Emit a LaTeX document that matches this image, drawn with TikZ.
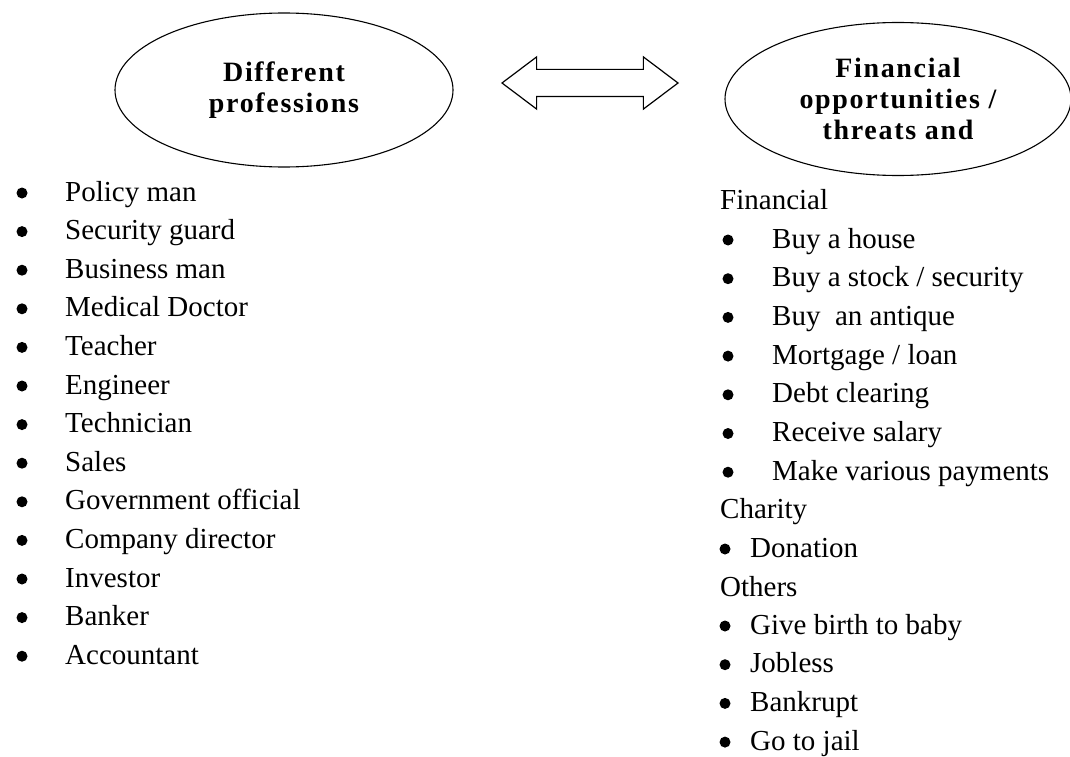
\documentclass[tikz,border=0pt]{standalone}
\usepackage{fontspec}
\setmainfont{Liberation Serif}[BoldFont={Liberation Serif Bold}]
\usetikzlibrary{shapes.geometric,shapes.arrows}
\tikzset{
  bubble/.style={ellipse,draw,line width=1.1pt,align=center,
    font=\bfseries\fontsize{28}{31}\selectfont\addfontfeatures{LetterSpace=6}},
  item/.style={anchor=base west,inner sep=0pt,font=\fontsize{29}{35}\selectfont},
  bul/.style={shape=circle,fill=black,inner sep=0pt,minimum size=11pt}
}
\begin{document}
\begin{tikzpicture}[x=1pt,y=-1pt]
\useasboundingbox (0,0) rectangle (1070,757);
% the two ellipses and the link between them
\node[bubble,minimum width=338pt,minimum height=154pt] (prof) at (284,90) {Different\\professions};
\node[bubble,minimum width=346pt,minimum height=153pt] (fin) at (898,99) {Financial\\opportunities /\\threats and};
\node[double arrow,draw,line width=1.2pt,minimum height=176pt,inner sep=13pt,
  double arrow head extend=12.5pt,double arrow tip angle=74] (link) at (590,83) {};
% left list
\foreach \t [count=\i from 0] in {Policy man,Security guard,Business man,Medical Doctor,Teacher,Engineer,Technician,Sales,Government official,Company director,Investor,Banker,Accountant}{
  \node[bul] (jb\i) at (22,{193+38.6*\i}) {};
  \node[item] (job\i) at (65,{201+38.6*\i}) {\t};
}
% right list
\node[item] (hfin) at (720,209) {Financial};
\foreach \t [count=\i from 0] in {Buy a house,Buy a stock / security,Buy\ \ an antique,Mortgage / loan,Debt clearing,Receive salary,Make various payments}{
  \node[bul] (fb\i) at (728,{240+38.7*\i}) {};
  \node[item] (fi\i) at (772,{248+38.7*\i}) {\t};
}
\node[item] (hchar) at (720,518) {Charity};
\node[bul] (cb) at (725,549) {};
\node[item] (ci) at (750,557) {Donation};
\node[item] (hoth) at (720,596) {Others};
\foreach \t [count=\i from 0] in {Give birth to baby,Jobless,Bankrupt,Go to jail}{
  \node[bul] (ob\i) at (725,{626+38.7*\i}) {};
  \node[item] (oi\i) at (750,{634+38.7*\i}) {\t};
}
\end{tikzpicture}
\end{document}
